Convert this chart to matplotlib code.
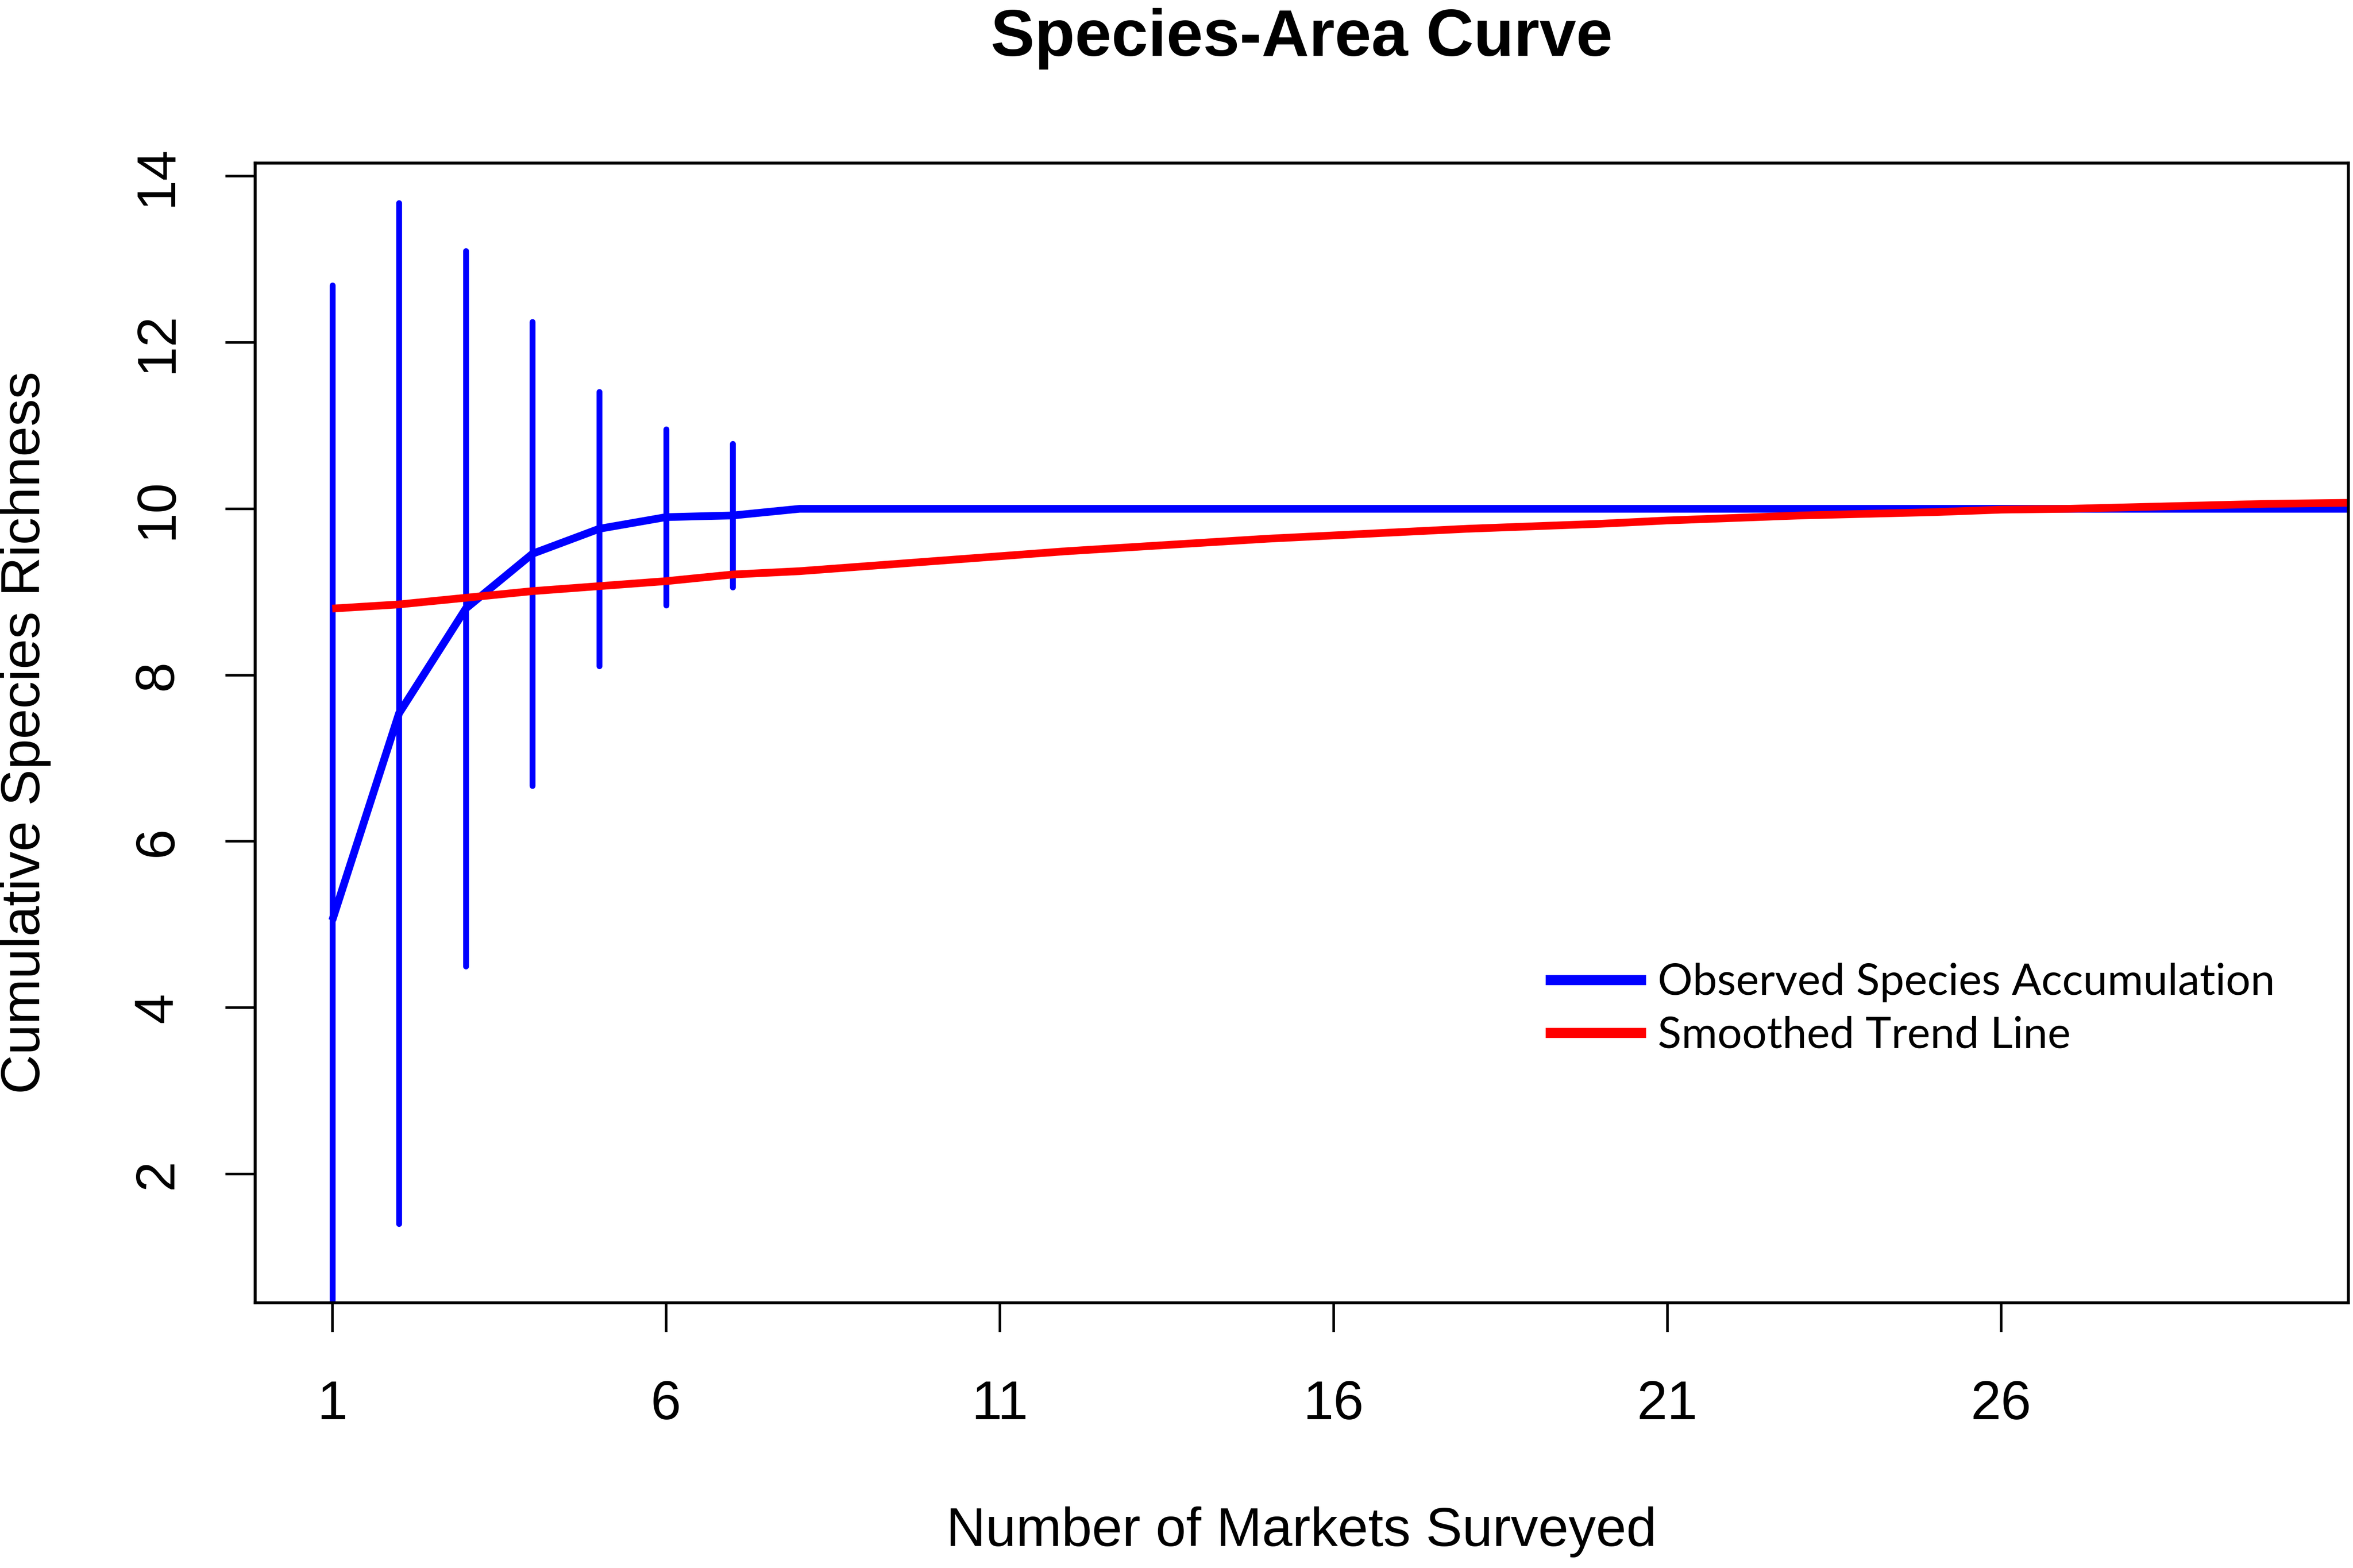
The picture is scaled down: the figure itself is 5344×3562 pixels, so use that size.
import numpy as np
import matplotlib
matplotlib.use("Agg")
import matplotlib.pyplot as plt

plt.rcParams['font.family'] = ['Liberation Sans', 'DejaVu Sans']

# number of markets surveyed
markets = np.arange(1, 33)

# observed species accumulation (mean) and its spread
richness = [5.05, 7.54, 8.80, 9.46, 9.76, 9.90, 9.92] + [10.0] * 25
richness_sd = [7.64, 6.14, 4.30, 2.79, 1.65, 1.06, 0.865] + [0.0] * 25

# smoothed trend line
trend = [8.80, 8.85, 8.93, 9.01, 9.07, 9.13, 9.21, 9.25, 9.31, 9.37,
         9.43, 9.49, 9.54, 9.59, 9.64, 9.68, 9.72, 9.76, 9.79, 9.82,
         9.86, 9.89, 9.92, 9.94, 9.96, 9.99, 10.00, 10.02, 10.04, 10.06,
         10.07, 10.08]

xticks = [1, 6, 11, 16, 21, 26]
yticks = [2, 4, 6, 8, 10, 12, 14]

fig = plt.figure(figsize=(5344 / 300, 3562 / 300), dpi=300)
ax = fig.add_axes([0.1083, 0.1693, 0.8897, 0.7268])

blue = '#0000FF'
red = '#FF0000'

# error bars only where spread is nonzero
sd = np.array(richness_sd)
has_bar = sd > 0
eb = ax.errorbar(markets[has_bar], np.array(richness)[has_bar], yerr=sd[has_bar],
                 fmt='none', ecolor=blue, elinewidth=3.2, capsize=0)
for c in eb[2]:
    c.set_capstyle('round')

ax.plot(markets, richness, color=blue, lw=4.2, label='Observed Species Accumulation',
        solid_capstyle='butt')
ax.plot(markets, trend, color=red, lw=4.2, label='Smoothed Trend Line',
        solid_capstyle='butt')

ax.set_xlim(-0.16, 31.2)
ax.set_ylim(0.454, 14.16)

ax.set_xticks(xticks)
ax.set_yticks(yticks)
ax.tick_params(axis='both', direction='out', length=16, width=1.4,
               labelsize=29.8, pad=23)
ax.tick_params(axis='x', pad=26)
for lab in ax.get_yticklabels():
    lab.set_rotation(90)
    lab.set_va('center')

for s in ax.spines.values():
    s.set_linewidth(1.6)

ax.set_xlabel('Number of Markets Surveyed', fontsize=29.8, va='center')
ax.xaxis.set_label_coords(0.5, -0.2012)
ax.set_ylabel('Cumulative Species Richness', fontsize=29.8, va='center')
ax.yaxis.set_label_coords(-0.1096, 0.5)

ax.set_title('Species-Area Curve', fontsize=35.9, fontweight='bold', y=1.094, pad=0)

leg = ax.legend(loc='upper left', bbox_to_anchor=(0.6165, 0.298), frameon=False,
                prop={'family': ['Lato', 'DejaVu Sans'], 'size': 23.8},
                handlelength=2.3, handletextpad=0.27, labelspacing=0.3,
                borderpad=0, borderaxespad=0)
for h in leg.get_lines():
    h.set_linewidth(5.5)

fig.savefig('out.png', dpi=300, facecolor='white')
